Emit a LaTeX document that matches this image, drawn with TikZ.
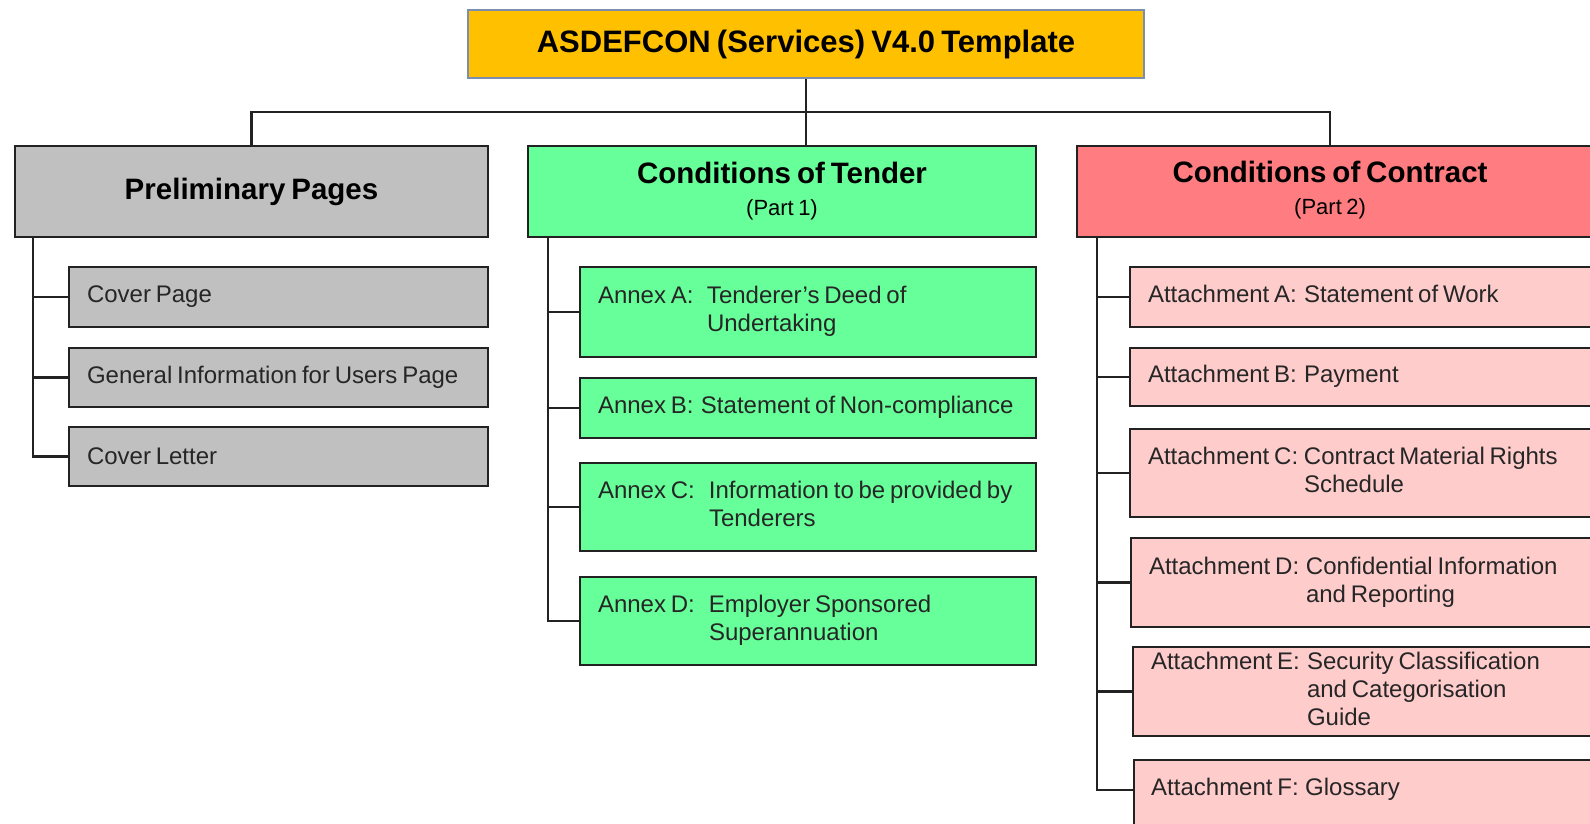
\documentclass[tikz,border=0pt]{standalone}
\usepackage{fontspec}
\setmainfont[WordSpace=0.72]{Liberation Sans}
\definecolor{titlefill}{HTML}{FFC000}
\definecolor{titleborder}{HTML}{7A8FB0}
\definecolor{grayfill}{HTML}{C0C0C0}
\definecolor{greenfill}{HTML}{66FF99}
\definecolor{redfill}{HTML}{FF7C80}
\definecolor{pinkfill}{HTML}{FFCCCC}
\definecolor{linecol}{HTML}{222222}
\newcommand\entry[3]{\begin{tabular}{@{}l@{}l@{}}\makebox[#1][l]{#2} & #3\end{tabular}}
\newcommand\lbox[2]{\makebox[#1][l]{#2}}
\begin{document}
\begin{tikzpicture}[x=1pt,y=-1pt,
  conn/.style={draw=linecol, line width=2.2pt},
  hdr/.style={draw=linecol, line width=2pt, anchor=north west, inner sep=0pt, align=center, font=\fontsize{29.5}{32}\selectfont\bfseries},
  hdrtext/.style={inner sep=0pt, align=center, font=\fontsize{29.5}{32}\selectfont\bfseries},
  sub/.style={draw=linecol, line width=2pt, anchor=north west, inner xsep=18pt, inner ysep=0pt, text=black!85, font=\fontsize{24}{28}\selectfont},
  subtext/.style={inner sep=0pt, anchor=west, text=black!85, font=\fontsize{24}{28}\selectfont}
]
\path[use as bounding box] (0,0) rectangle (1590,824);
\clip (0,0) rectangle (1590,824);

% title
\node[draw=titleborder, fill=titlefill, line width=2pt, minimum width=676pt, minimum height=68pt, inner sep=0pt, anchor=north west, font=\fontsize{31}{36}\selectfont\bfseries] (top) at (467,9) {ASDEFCON (Services) V4.0 Template};

% headers
\node[hdr, fill=grayfill, minimum width=473pt, minimum height=91pt] (pp) at (14,145) {Preliminary Pages};
\node[hdr, fill=greenfill, minimum width=508pt, minimum height=91pt] (ct) at (527,145) {Conditions of Tender\\{\mdseries\fontsize{22}{32}\selectfont (Part 1)}};
\node[hdr, fill=redfill, minimum width=530pt, minimum height=91pt] (cc) at (1076,145) {};
\node[hdrtext] (cctext) at (1330,190) {Conditions of Contract\\{\mdseries\fontsize{22}{32}\selectfont (Part 2)}};

% preliminary pages
\node[sub, fill=grayfill, minimum height=60pt] (cp) at (68,266) {\lbox{383pt}{Cover Page}};
\node[sub, fill=grayfill, minimum height=59pt] (gi) at (68,347) {\lbox{383pt}{General Information for Users Page}};
\node[sub, fill=grayfill, minimum height=59pt] (cl) at (68,426) {\lbox{383pt}{Cover Letter}};

% tender annexes
\node[sub, fill=greenfill, minimum height=90pt] (anA) at (579,266) {\lbox{420pt}{\entry{109pt}{Annex A:}{Tenderer's Deed of\\ & Undertaking}}};
\node[sub, fill=greenfill, minimum height=60pt] (anB) at (579,377) {\lbox{420pt}{\entry{103pt}{Annex B:}{Statement of Non-compliance}}};
\node[sub, fill=greenfill, minimum height=88pt] (anC) at (579,462) {\lbox{420pt}{\entry{111pt}{Annex C:}{Information to be provided by\\ & Tenderers}}};
\node[sub, fill=greenfill, minimum height=88pt] (anD) at (579,576) {\lbox{420pt}{\entry{111pt}{Annex D:}{Employer Sponsored\\ & Superannuation}}};

% contract attachments
\node[sub, fill=pinkfill, minimum height=60pt] (atA) at (1129,266) {\lbox{444pt}{\entry{156pt}{Attachment A:}{Statement of Work}}};
\node[sub, fill=pinkfill, minimum height=58pt] (atB) at (1129,347) {\lbox{444pt}{\entry{156pt}{Attachment B:}{Payment}}};
\node[sub, fill=pinkfill, minimum height=88pt] (atC) at (1129,428) {\lbox{444pt}{\entry{156pt}{Attachment C:}{Contract Material Rights\\ & Schedule}}};
\node[sub, fill=pinkfill, minimum height=89pt] (atD) at (1130,537) {\lbox{444pt}{\entry{157pt}{Attachment D:}{Confidential Information\\ & and Reporting}}};
\node[sub, fill=pinkfill, minimum height=89pt] (atE) at (1132,646) {\lbox{444pt}{\entry{156pt}{Attachment E:}{Security Classification\\ & and Categorisation\\ & Guide}}};
\node[sub, fill=pinkfill, minimum height=80pt] (atF) at (1133,759) {\lbox{444pt}{}};
\node[subtext] (atFt) at (1151,790) {\entry{154pt}{Attachment F:}{Glossary}};

% top connectors
\coordinate (bar) at (0,112);
\draw[conn] (top.south) -- (top.south |- ct.north);
\draw[conn] (pp.north) |- (bar -| cctext) -- (cctext |- cc.north);

% preliminary bus
\foreach \n in {cp,gi,cl}
  \draw[conn] ([xshift=19pt]pp.south west) |- (\n.west);
% tender bus
\foreach \n in {anA,anB,anC,anD}
  \draw[conn] ([xshift=21pt]ct.south west) |- (\n.west);
% contract bus
\foreach \n in {atA,atB,atC,atD,atE}
  \draw[conn] ([xshift=21pt]cc.south west) |- (\n.west);
\draw[conn] ([xshift=21pt]cc.south west) |- (atFt -| atF.west);
\end{tikzpicture}
\end{document}
